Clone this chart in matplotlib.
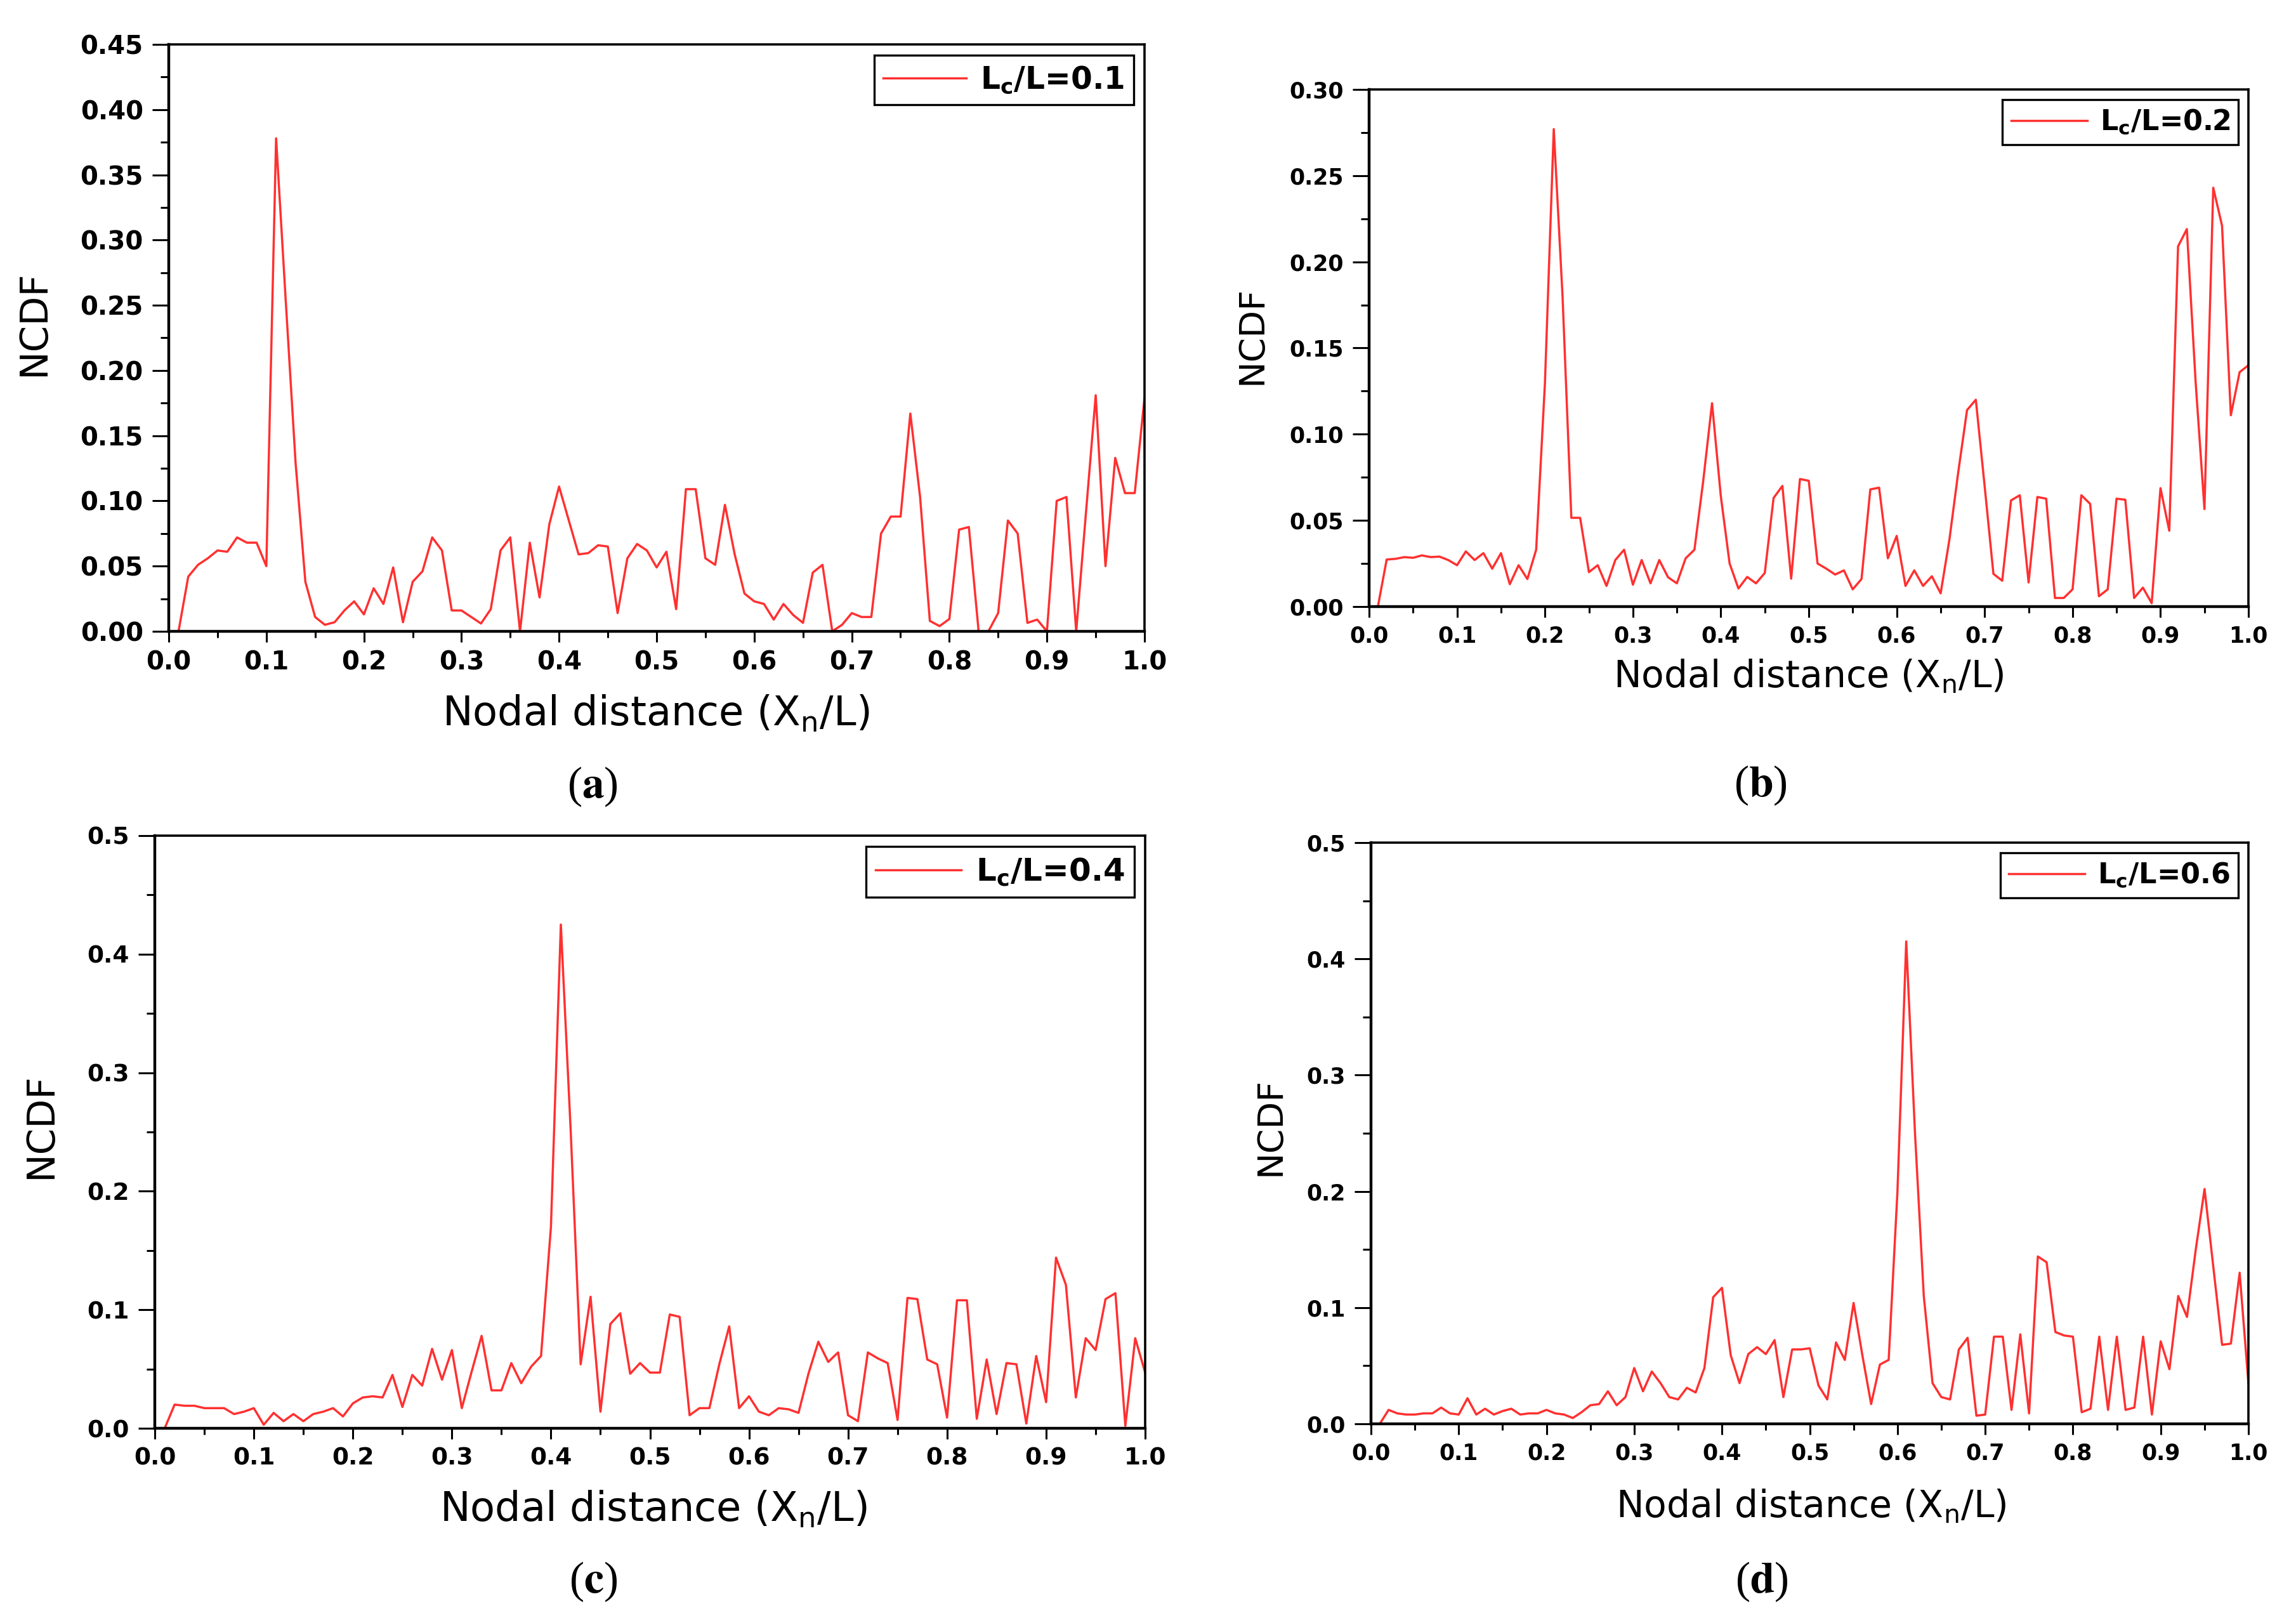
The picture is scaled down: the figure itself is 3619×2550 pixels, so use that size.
import numpy as np
import matplotlib
matplotlib.use("Agg")
import matplotlib.pyplot as plt
from matplotlib.ticker import MultipleLocator, FormatStrFormatter

plt.rcParams['font.family'] = ['DejaVu Sans']

# ---------------- data ----------------
nodal_distance = np.round(np.linspace(0.01, 1.00, 100), 2)

ncdf_a = [0.0, 0.042, 0.051, 0.056, 0.062, 0.061, 0.072, 0.068, 0.068, 0.050,
          0.378, 0.252, 0.129, 0.038, 0.011, 0.005, 0.007, 0.016, 0.023, 0.013,
          0.033, 0.021, 0.049, 0.007, 0.038, 0.046, 0.072, 0.062, 0.016, 0.016,
          0.011, 0.006, 0.017, 0.062, 0.072, 0.0, 0.068, 0.026, 0.082, 0.111,
          0.085, 0.059, 0.060, 0.066, 0.065, 0.014, 0.056, 0.067, 0.062, 0.049,
          0.061, 0.017, 0.109, 0.109, 0.056, 0.051, 0.097, 0.059, 0.029, 0.023,
          0.021, 0.009, 0.021, 0.0125, 0.0065, 0.045, 0.051, 0.0, 0.005, 0.014,
          0.011, 0.011, 0.075, 0.088, 0.088, 0.167, 0.103, 0.008, 0.004, 0.0095,
          0.078, 0.080, 0.0, 0.0, 0.014, 0.085, 0.075, 0.0065, 0.009, 0.0,
          0.100, 0.103, 0.0, 0.091, 0.181, 0.050, 0.133, 0.106, 0.106, 0.179]

ncdf_b = [0.0, 0.0273, 0.0277, 0.0287, 0.0283, 0.0297, 0.0287, 0.029, 0.027, 0.024,
          0.032, 0.027, 0.031, 0.022, 0.031, 0.013, 0.024, 0.016, 0.033, 0.13,
          0.277, 0.18, 0.0515, 0.0515, 0.020, 0.024, 0.012, 0.027, 0.033, 0.0127,
          0.027, 0.0135, 0.027, 0.017, 0.0135, 0.028, 0.033, 0.073, 0.118, 0.064,
          0.025, 0.0105, 0.0172, 0.0135, 0.0195, 0.063, 0.070, 0.0162, 0.074, 0.073,
          0.025, 0.022, 0.0186, 0.021, 0.010, 0.016, 0.068, 0.069, 0.028, 0.041,
          0.012, 0.021, 0.012, 0.0176, 0.0077, 0.039, 0.078, 0.114, 0.120, 0.070,
          0.019, 0.015, 0.0616, 0.0646, 0.014, 0.0636, 0.0626, 0.005, 0.005, 0.010,
          0.0646, 0.0596, 0.006, 0.010, 0.0626, 0.062, 0.005, 0.011, 0.002, 0.0687,
          0.044, 0.209, 0.219, 0.13, 0.0566, 0.243, 0.221, 0.111, 0.136, 0.140]

ncdf_c = [0.0, 0.020, 0.019, 0.019, 0.017, 0.017, 0.017, 0.012, 0.014, 0.017,
          0.003, 0.013, 0.006, 0.012, 0.006, 0.012, 0.014, 0.017, 0.010, 0.021,
          0.026, 0.027, 0.026, 0.045, 0.018, 0.045, 0.036, 0.067, 0.041, 0.066,
          0.017, 0.048, 0.078, 0.032, 0.032, 0.055, 0.038, 0.052, 0.061, 0.17,
          0.425, 0.25, 0.054, 0.111, 0.014, 0.088, 0.097, 0.046, 0.055, 0.047,
          0.047, 0.096, 0.094, 0.011, 0.017, 0.017, 0.054, 0.086, 0.017, 0.027,
          0.014, 0.011, 0.017, 0.016, 0.013, 0.046, 0.073, 0.056, 0.064, 0.011,
          0.006, 0.064, 0.059, 0.055, 0.007, 0.110, 0.109, 0.058, 0.054, 0.009,
          0.108, 0.108, 0.008, 0.058, 0.012, 0.055, 0.054, 0.004, 0.061, 0.022,
          0.144, 0.121, 0.026, 0.076, 0.066, 0.109, 0.114, 0.002, 0.076, 0.047]

ncdf_d = [0.0, 0.012, 0.009, 0.008, 0.008, 0.009, 0.009, 0.014, 0.009, 0.008,
          0.022, 0.008, 0.013, 0.008, 0.011, 0.013, 0.008, 0.009, 0.009, 0.012,
          0.009, 0.008, 0.005, 0.010, 0.016, 0.017, 0.028, 0.016, 0.023, 0.048,
          0.028, 0.045, 0.035, 0.023, 0.021, 0.031, 0.027, 0.048, 0.109, 0.117,
          0.059, 0.035, 0.060, 0.066, 0.060, 0.072, 0.023, 0.064, 0.064, 0.065,
          0.033, 0.021, 0.070, 0.055, 0.104, 0.059, 0.017, 0.051, 0.055, 0.20,
          0.415, 0.25, 0.11, 0.035, 0.023, 0.021, 0.064, 0.074, 0.007, 0.008,
          0.075, 0.075, 0.012, 0.077, 0.009, 0.144, 0.139, 0.079, 0.076, 0.075,
          0.010, 0.013, 0.075, 0.012, 0.075, 0.012, 0.014, 0.075, 0.008, 0.071,
          0.047, 0.110, 0.092, 0.15, 0.202, 0.135, 0.068, 0.069, 0.130, 0.035]

ratios = ["0.1", "0.2", "0.4", "0.6"]
panel_letters = ["a", "b", "c", "d"]
y_max = [0.45, 0.30, 0.5, 0.5]
y_step = [0.05, 0.05, 0.1, 0.1]
y_fmt = ["%.2f", "%.2f", "%.1f", "%.1f"]
series = [ncdf_a, ncdf_b, ncdf_c, ncdf_d]

# ---------------- layout ----------------
W, H = 3619, 2550
fig = plt.figure(figsize=(W / 100, H / 100), dpi=100)

# axes boxes in pixel coordinates: left, right, top, bottom
boxes = [(266, 1804, 70, 995),
         (2158, 3544, 141, 956),
         (244, 1805, 1317, 2251),
         (2161, 3544, 1328, 2244)]
tick_fs = [29, 25, 27, 25]
leg_fs = [35, 32, 36, 32]
xlab_fs = [46, 42, 46, 42]
ylab_fs = [43, 40, 43, 40]
xlab_pos = [(1034, 1143), (2851, 1083), (1030, 2398), (2855, 2391)]
ylab_pos = [(54, 510), (1973, 528), (65, 1775), (2003, 1775)]
panel_pos = [(934, 1240), (2775, 1238), (935, 2493), (2777, 2493)]

line_color = '#ff3030'
axes_list = []

for i in range(4):
    l, r, t, b = boxes[i]
    ax = fig.add_axes([l / W, 1 - b / H, (r - l) / W, (b - t) / H])
    axes_list.append(ax)
    ax.plot(nodal_distance, series[i], color=line_color, lw=2.5,
            label=r"L$_\mathbf{c}$/L=" + ratios[i])
    ax.set_xlim(0, 1.0)
    ax.set_ylim(0, y_max[i])
    ax.xaxis.set_major_locator(MultipleLocator(0.1))
    ax.xaxis.set_minor_locator(MultipleLocator(0.05))
    ax.yaxis.set_major_locator(MultipleLocator(y_step[i]))
    ax.yaxis.set_minor_locator(MultipleLocator(y_step[i] / 2))
    ax.xaxis.set_major_formatter(FormatStrFormatter("%.1f"))
    ax.yaxis.set_major_formatter(FormatStrFormatter(y_fmt[i]))
    ax.tick_params(axis='y', which='major', direction='out', length=19, width=2.2,
                   pad=10, labelsize=tick_fs[i])
    ax.tick_params(axis='y', which='minor', direction='out', length=9.5, width=2.2)
    ax.tick_params(axis='x', which='major', direction='out', length=12, width=2.2,
                   pad=9, labelsize=tick_fs[i])
    ax.tick_params(axis='x', which='minor', direction='out', length=7, width=2.2)
    for s in ['left', 'bottom']:
        ax.spines[s].set_linewidth(3.2)
    for s in ['top', 'right']:
        ax.spines[s].set_linewidth(2.6)

    leg = ax.legend(loc='upper right', prop={'size': leg_fs[i], 'weight': 'bold'},
                    frameon=True, fancybox=False, edgecolor='black', framealpha=1,
                    handlelength=2.7, handletextpad=0.45, borderpad=0.3,
                    borderaxespad=0.35)
    leg.get_frame().set_linewidth(2.4)

    xx, yy = xlab_pos[i]
    fig.text(xx / W, 1 - yy / H, r"Nodal distance (X$_\mathrm{n}$/L)",
             ha='center', va='baseline', fontsize=xlab_fs[i])
    xx, yy = ylab_pos[i]
    fig.text(xx / W, 1 - yy / H, "NCDF", rotation=90, ha='center', va='center',
             fontsize=ylab_fs[i])
    xx, yy = panel_pos[i]
    fig.text(xx / W, 1 - yy / H, r"($\mathbf{" + panel_letters[i] + r"}$)",
             family='Liberation Serif', math_fontfamily='stix',
             ha='center', va='center', fontsize=50)

fig.canvas.draw()
for ax in axes_list:
    for lab in ax.get_xticklabels() + ax.get_yticklabels():
        lab.set_fontweight('bold')

fig.savefig("out.png", dpi=100, facecolor='white')
